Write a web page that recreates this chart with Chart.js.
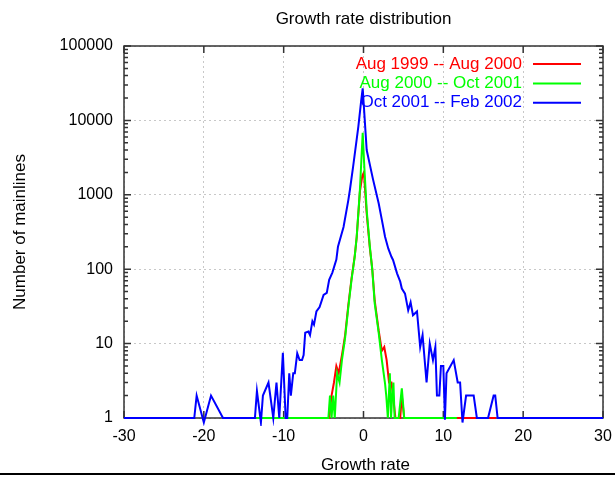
<!DOCTYPE html>
<html>
<head>
<meta charset="utf-8">
<script src="https://cdn.jsdelivr.net/npm/chart.js@4/dist/chart.umd.min.js"></script>
<style>
  html, body { margin: 0; padding: 0; background: #fff; }
  #wrap { width: 615px; height: 477px; }
</style>
</head>
<body>
<div id="wrap"><canvas id="growthChart" width="615" height="477"></canvas></div>
<script>
// chart text
const chartTitle = "Growth rate distribution";
const xTitle = "Growth rate";
const yTitle = "Number of mainlines";
const seriesLabels = ["Aug 1999 -- Aug 2000", "Aug 2000 -- Oct 2001", "Oct 2001 -- Feb 2002"];

// axis ticks
const xTicks = [-30, -20, -10, 0, 10, 20, 30];
const yTicks = [1, 10, 100, 1000, 10000, 100000];
const yMinorSteps = [2, 3, 4, 5, 6, 7, 8, 9];

// series values
const redX = [-10.5, -4.3, -4.0, -3.7, -3.4, -3.1, -2.7, -2.3, -1.9, -1.5, -1.1, -0.85, -0.45, -0.15, 0.05, 0.4, 0.8, 1.1, 1.4, 1.9, 2.3, 2.6, 2.9, 3.2, 3.5, 3.7, 4.0, 4.6, 4.8, 5.1, 16.6];
const redY = [1, 1, 2, 3, 5, 4, 7, 13, 33, 75, 150, 270, 1100, 1800, 2000, 560, 190, 100, 38, 15, 8, 9, 6, 3, 3, 2, 1, 1, 2, 1, 1];

const greenX = [-13.4, -4.4, -4.2, -4.0, -3.8, -3.6, -3.3, -3.0, -2.7, -2.3, -1.9, -1.5, -1.1, -0.85, -0.45, -0.1, 0.1, 0.4, 0.8, 1.1, 1.4, 1.9, 2.3, 2.7, 2.85, 3.05, 3.3, 3.45, 3.6, 3.75, 3.9, 4.4, 4.8, 5.1, 11.7];
const greenY = [1, 1, 2, 1, 2, 1, 4, 3, 6, 12, 31, 72, 147, 273, 1170, 6800, 2400, 620, 200, 98, 35, 14, 6, 2.9, 2, 1, 4, 1, 2, 3, 1, 1, 2.5, 1, 1];

const blueX = [-30, -21.2, -20.9, -20.0, -19.1, -17.6, -13.6, -13.35, -12.85, -12.6, -11.9, -11.3, -10.9, -10.55, -10.1, -9.75, -9.55, -9.3, -9.1, -8.8, -8.6, -8.3, -8.0, -7.7, -7.5, -7.3, -6.9, -6.7, -6.4, -6.2, -5.9, -5.5, -5.0, -4.6, -4.3, -3.9, -3.4, -3.2, -2.5, -1.9, -1.7, -1.3, -0.65, -0.3, -0.1, 0.4, 1.2, 1.9, 2.3, 2.7, 3.1, 3.5, 3.7, 4.2, 4.6, 4.8, 5.2, 5.6, 5.9, 6.2, 6.7, 7.1, 7.4, 7.9, 8.3, 8.7, 9.0, 9.2, 9.5, 9.7, 10.0, 10.2, 10.4, 11.3, 11.8, 12.1, 12.4, 12.85, 13.8, 14.2, 15.6, 16.3, 16.5, 16.8, 30];
const blueY = [1, 1, 2, 0.87, 2, 1, 1, 2.3, 0.87, 2, 3, 1, 3, 1, 7.5, 1, 1, 4, 2, 4, 4, 7.4, 6, 6, 7, 14, 14.5, 13, 20, 18, 27, 31, 45, 48, 72, 90, 135, 200, 370, 850, 1170, 2400, 8200, 18000, 27000, 4000, 1600, 770, 460, 273, 190, 147, 133, 88, 68, 55, 47, 28, 36, 24, 27, 9, 13, 3, 10, 6, 9, 2, 2, 5, 5, 0.95, 4, 6, 3, 3, 0.87, 2, 2, 1, 1, 2, 2, 1, 1];

const toPoints = (xs, ys) => xs.map((x, i) => ({ x, y: ys[i] }));

const textFont = "'Liberation Sans', Arial, sans-serif";

const decorPlugin = {
  id: "decor",
  beforeDatasetsDraw(chart) {
    const { ctx, chartArea: a, scales: { x, y } } = chart;
    ctx.save();
    ctx.strokeStyle = "#333";
    ctx.lineWidth = 1.5;
    ctx.strokeRect(a.left, a.top, a.right - a.left, a.bottom - a.top);
    ctx.beginPath();
    // major ticks on all four sides, pointing in
    xTicks.forEach(v => {
      const px = x.getPixelForValue(v);
      ctx.moveTo(px, a.bottom); ctx.lineTo(px, a.bottom - 7);
      ctx.moveTo(px, a.top); ctx.lineTo(px, a.top + 7);
    });
    yTicks.forEach(v => {
      const py = y.getPixelForValue(v);
      ctx.moveTo(a.left, py); ctx.lineTo(a.left + 7, py);
      ctx.moveTo(a.right, py); ctx.lineTo(a.right - 7, py);
    });
    // minor log ticks
    yTicks.slice(0, -1).forEach(base => {
      yMinorSteps.forEach(m => {
        const py = y.getPixelForValue(base * m);
        ctx.moveTo(a.left, py); ctx.lineTo(a.left + 4, py);
        ctx.moveTo(a.right, py); ctx.lineTo(a.right - 4, py);
      });
    });
    ctx.stroke();
    ctx.restore();
  },
  afterDraw(chart) {
    const { ctx, chartArea: a } = chart;
    ctx.save();
    ctx.fillStyle = "#000";
    ctx.textAlign = "center";
    ctx.textBaseline = "middle";
    ctx.font = "17px " + textFont;
    ctx.fillText(chartTitle, (a.left + a.right) / 2, 19);
    ctx.fillText(xTitle, (a.left + a.right) / 2 + 2, 465);
    ctx.save();
    ctx.translate(20, (a.top + a.bottom) / 2);
    ctx.rotate(-Math.PI / 2);
    ctx.fillText(yTitle, 0, 0);
    ctx.restore();

    // key, top right inside the frame
    ctx.textAlign = "right";
    chart.data.datasets.forEach((ds, i) => {
      const yy = a.top + 18 + i * 19.4;
      ctx.fillStyle = ds.borderColor;
      ctx.fillText(ds.label, a.right - 81, yy);
      ctx.strokeStyle = ds.borderColor;
      ctx.lineWidth = ds.borderWidth;
      ctx.beginPath();
      ctx.moveTo(a.right - 70, yy);
      ctx.lineTo(a.right - 22, yy);
      ctx.stroke();
    });

    // rule along the bottom of the image
    ctx.strokeStyle = "#000";
    ctx.lineWidth = 2;
    ctx.beginPath();
    ctx.moveTo(0, 474);
    ctx.lineTo(chart.width, 474);
    ctx.stroke();
    ctx.restore();
  }
};

const lineDataset = (label, xs, ys, color, order) => ({
  label,
  data: toPoints(xs, ys),
  borderColor: color,
  backgroundColor: color,
  borderWidth: 2,
  pointRadius: 0,
  showLine: true,
  tension: 0,
  order,
  clip: { left: 0, top: 0, right: 0, bottom: 8 }
});

new Chart(document.getElementById("growthChart"), {
  type: "scatter",
  data: {
    datasets: [
      lineDataset(seriesLabels[0], redX, redY, "#ff0000", 2),
      lineDataset(seriesLabels[1], greenX, greenY, "#00ff00", 1),
      lineDataset(seriesLabels[2], blueX, blueY, "#0000ff", 0)
    ]
  },
  options: {
    responsive: false,
    animation: false,
    layout: { padding: { top: 46, right: 12, left: 0, bottom: 0 } },
    plugins: {
      legend: { display: false },
      title: { display: false },
      tooltip: { enabled: false }
    },
    scales: {
      x: {
        type: "linear",
        min: -30,
        max: 30,
        afterFit: (s) => { s.height = 59; s.paddingLeft = 0; s.paddingRight = 0; },
        afterBuildTicks: (s) => { s.ticks = xTicks.map(v => ({ value: v })); },
        grid: { color: "#c8c8c8", lineWidth: 1, drawTicks: false },
        border: { display: false, dash: [2, 3] },
        ticks: {
          padding: 9,
          color: "#000",
          maxRotation: 0,
          font: { size: 16, family: textFont }
        }
      },
      y: {
        type: "logarithmic",
        min: 1,
        max: 100000,
        afterFit: (s) => { s.width = 124; s.paddingTop = 0; s.paddingBottom = 0; },
        afterBuildTicks: (s) => { s.ticks = yTicks.map(v => ({ value: v })); },
        grid: { color: "#c8c8c8", lineWidth: 1, drawTicks: false },
        border: { display: false, dash: [2, 3] },
        ticks: {
          padding: 11,
          color: "#000",
          font: { size: 16, family: textFont },
          callback: (v) => String(v)
        }
      }
    }
  },
  plugins: [decorPlugin]
});
</script>
</body>
</html>
